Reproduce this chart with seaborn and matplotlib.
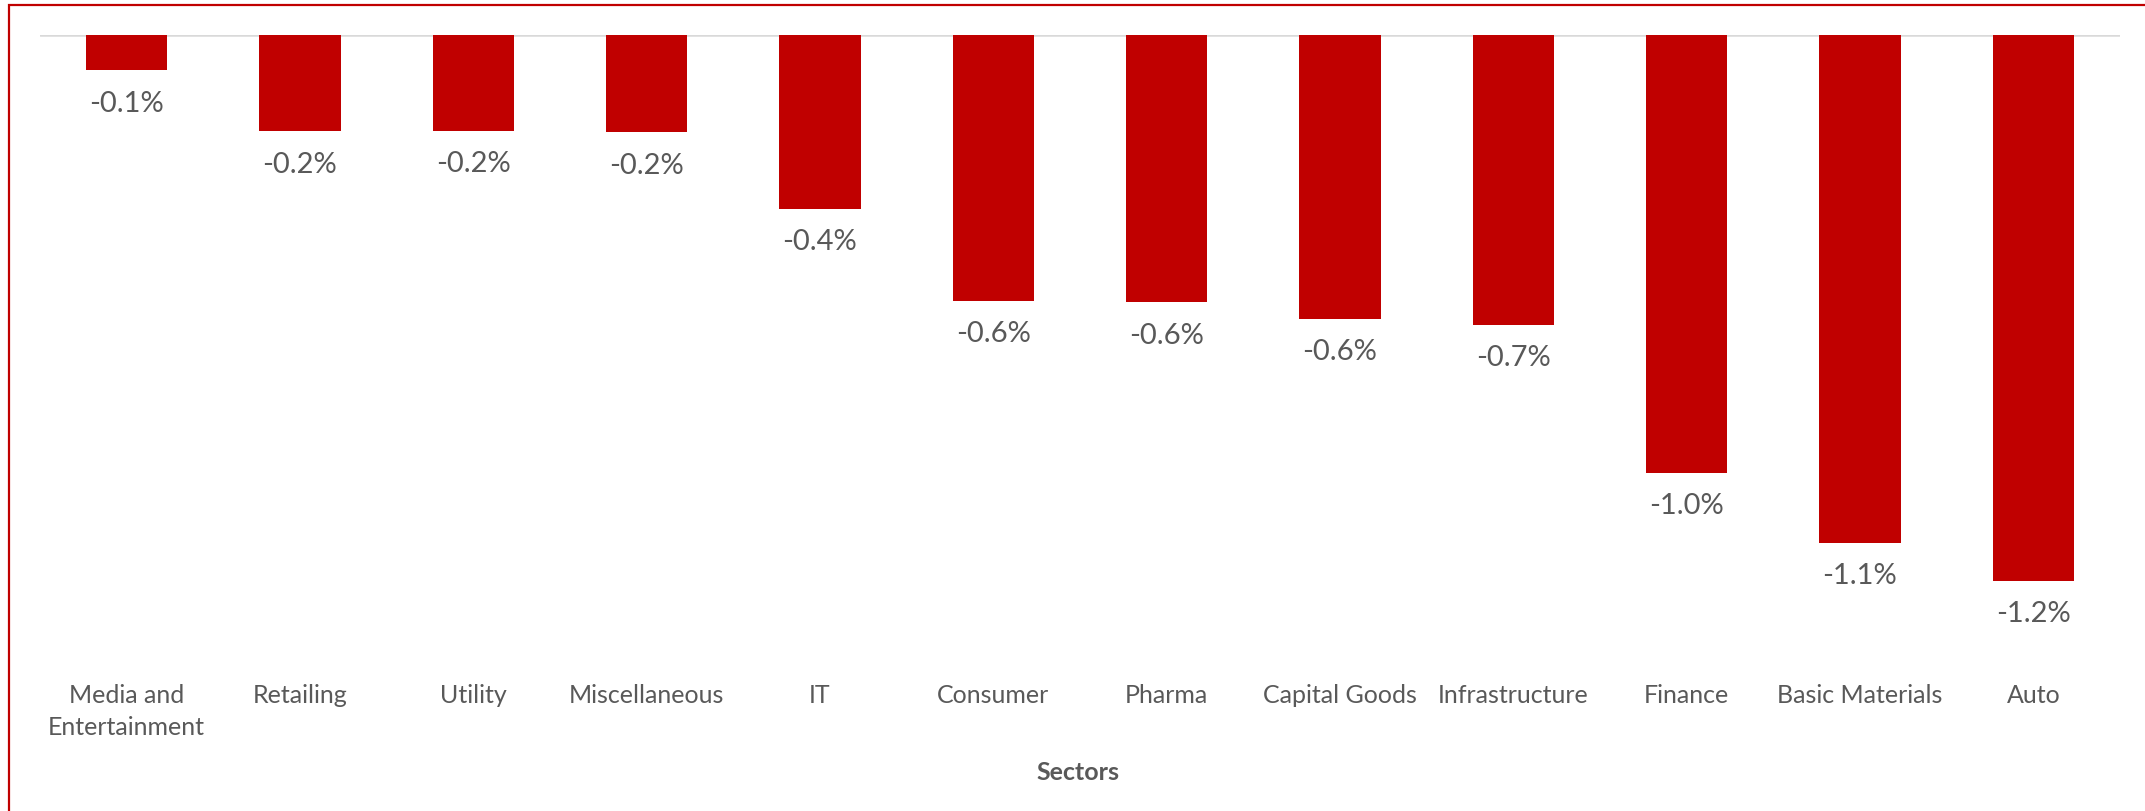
import matplotlib
matplotlib.use("Agg")
import matplotlib.pyplot as plt
import matplotlib.patches as mpatches
import seaborn as sns
import pandas as pd

# Sector returns (%)
sectors = [
    "Media and\nEntertainment", "Retailing", "Utility", "Miscellaneous", "IT",
    "Consumer", "Pharma", "Capital Goods", "Infrastructure", "Finance",
    "Basic Materials", "Auto",
]
returns = [-0.079, -0.217, -0.216, -0.219, -0.391, -0.598, -0.602, -0.639,
           -0.653, -0.986, -1.143, -1.229]

BAR_RED = "#C00000"
TEXT_GREY = "#595959"

sns.set_theme(style="white")
plt.rcParams["font.family"] = ["Lato", "DejaVu Sans"]

W, H = 2145, 812
fig = plt.figure(figsize=(W / 100, H / 100), dpi=100)
ax_left, ax_right, ax_top, ax_bottom = 40, 2120, 36, 660
ax = fig.add_axes([ax_left / W, 1 - ax_bottom / H,
                   (ax_right - ax_left) / W, (ax_bottom - ax_top) / H])

df = pd.DataFrame({"sector": sectors, "ret": returns})
sns.barplot(data=df, x="sector", y="ret", order=sectors, color=BAR_RED,
            saturation=1, width=0.47, ax=ax, edgecolor="none")

ax.set_ylim(-1.405, 0)
ax.set_xlim(-0.5, len(sectors) - 0.5)
ax.axhline(0, color="#D9D9D9", lw=1.8, zorder=0)

for container in ax.containers:
    ax.bar_label(container, fmt="{:.1f}%", padding=14, fontsize=21,
                 color=TEXT_GREY)

for s in ax.spines.values():
    s.set_visible(False)
ax.set_yticks([])
ax.set_ylabel("")
ax.tick_params(axis="x", length=0, pad=17, labelsize=18, labelcolor=TEXT_GREY)
for lbl in ax.get_xticklabels():
    lbl.set_linespacing(1.5)

ax.set_xlabel("Sectors", fontsize=18, fontweight="bold", color=TEXT_GREY)
ax.xaxis.set_label_coords(0.499, -(773 - ax_bottom) / (ax_bottom - ax_top))
ax.xaxis.label.set_va("center")

# Chart frame (only the top and left edges fall inside the image)
frame = mpatches.Rectangle((9 / W, -0.2), 1.2, 1.2 - 6 / H,
                           transform=fig.transFigure, fill=False,
                           edgecolor=BAR_RED, lw=1.6, clip_on=False)
fig.patches.append(frame)

fig.savefig("out.png", dpi=100, facecolor="white")
